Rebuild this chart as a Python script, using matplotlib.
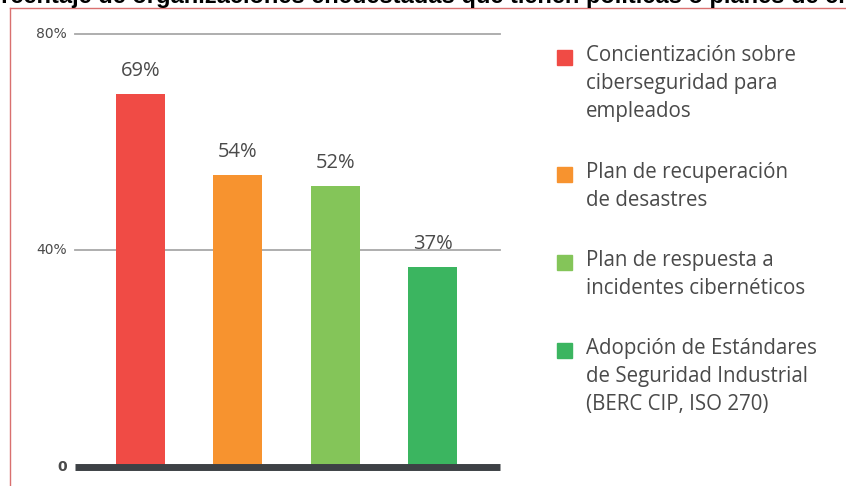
import matplotlib.pyplot as plt
from matplotlib.lines import Line2D
from matplotlib.patches import Rectangle

titulo = "Porcentaje de organizaciones encuestadas que tienen políticas o planes de ciberseguridad"
categorias = [
    "Concientización sobre\nciberseguridad para\nempleados",
    "Plan de recuperación\nde desastres",
    "Plan de respuesta a\nincidentes cibernéticos",
    "Adopción de Estándares\nde Seguridad Industrial\n(BERC CIP, ISO 270)",
]
valores = [69, 54, 52, 37]
colores = ["#f04b45", "#f7932f", "#84c559", "#3bb560"]
ticks = [0, 40, 80]
tick_labels = ["0", "40%", "80%"]

W, H = 846, 486
fig = plt.figure(figsize=(W / 100, H / 100), dpi=100)
plt.rcParams['font.family'] = ['Open Sans', 'DejaVu Sans']
gris = "#4a4a4a"

# ejes: x 75..500 px, y 0 -> 467 px, 80 -> 34 px
ax = fig.add_axes([75 / W, (H - 467) / H, (500 - 75) / W, (467 - 34) / H])
x = list(range(len(valores)))
ax.bar(x, valores, width=0.5, color=colores, zorder=2)
ax.set_xlim(-0.67, 3.69)
ax.set_ylim(0, 80)
for s in ax.spines.values():
    s.set_visible(False)
ax.set_xticks([])
ax.set_yticks([])

for t in ticks[1:]:
    ax.axhline(t, color="#a8a8a8", lw=1.3, zorder=1, clip_on=False)
ax.axhline(0, color="#3d4145", lw=5, zorder=3, clip_on=False, solid_capstyle="butt")

for t, lab in zip(ticks, tick_labels):
    ax.text(-0.755, t, lab, ha="right", va="center", fontsize=10, color=gris,
            family=['Liberation Sans Narrow', 'DejaVu Sans'],
            fontweight="bold" if lab == "0" else "normal")

for xi, v in zip(x, valores):
    ax.text(xi, v + 2.3, f"{v}%", ha="center", va="bottom", fontsize=14.5, color=gris)

# leyenda
ytop = [50, 167, 255, 343]
for c, lab, yy in zip(colores, categorias, ytop):
    fig.patches.append(Rectangle((557 / W, 1 - (yy + 15) / H), 15 / W, 15 / H,
                                 transform=fig.transFigure, color=c))
    fig.text(586 / W, 1 - (yy - 5) / H, lab, ha="left", va="top", fontsize=14.8,
             color=gris, linespacing=1.45)

# titulo cortado y marco
fig.text(-29 / W, 1 - 3 / H, titulo, ha="left", va="baseline", fontsize=17,
         fontweight="bold", color="black", family=['Liberation Sans', 'DejaVu Sans'])
fig.lines.append(Line2D([10 / W, 1], [1 - 8 / H, 1 - 8 / H], transform=fig.transFigure,
                        color="#d9706f", lw=1))
fig.lines.append(Line2D([10 / W, 10 / W], [0, 1 - 8 / H], transform=fig.transFigure,
                        color="#d9706f", lw=1))

fig.savefig("out.png", dpi=100)
